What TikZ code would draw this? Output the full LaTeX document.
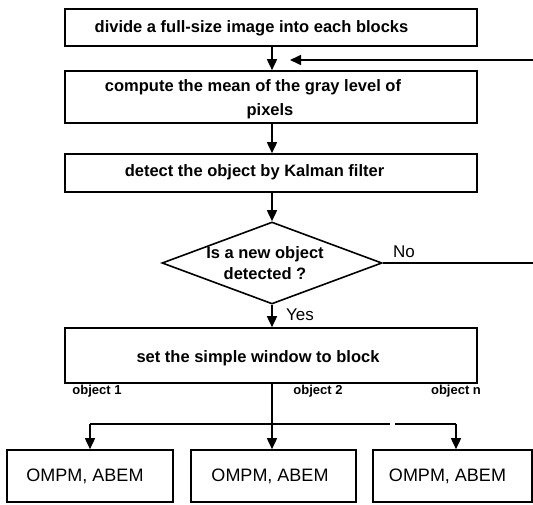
\documentclass[tikz,border=0pt]{standalone}
\usepackage{fontspec}
\setmainfont{Liberation Sans}
\usetikzlibrary{arrows.meta,shapes.geometric}
\begin{document}
\begin{tikzpicture}[x=1pt,y=-1pt,
  line width=1.6pt,
  box/.style={draw,line width=1.6pt,inner sep=0pt,minimum width=412pt},
  smallbox/.style={draw,line width=1.6pt,inner sep=0pt,minimum height=52pt},
  dia/.style={draw,line width=1.6pt,diamond,inner sep=0pt,minimum width=220pt,minimum height=82pt},
  btxt/.style={inner sep=0pt,font=\fontsize{16.5}{19}\selectfont\bfseries},
  rtxt/.style={inner sep=0pt,font=\fontsize{17}{20}\selectfont},
  otxt/.style={inner sep=0pt,font=\fontsize{18}{21}\selectfont},
  ltxt/.style={inner sep=0pt,font=\fontsize{13}{15}\selectfont\bfseries},
  arr/.style={-{Triangle[length=11pt,width=10pt]}}]
\fill[white] (0,0) rectangle (533,505);
\useasboundingbox (0,0) rectangle (533,505);
% boxes
\node[box,minimum height=37pt] (b1) at (271,27.5) {};
\node[box,minimum height=52pt] (b2) at (271,97) {};
\node[box,minimum height=38pt] (b3) at (271,173) {};
\node[dia] (d) at (272,263) {};
\node[box,minimum height=55pt] (b4) at (271,355.5) {};
\node[smallbox,minimum width=166pt] (o1) at (90,476) {};
\node[smallbox,minimum width=165pt] (o2) at (273.5,476) {};
\node[smallbox,minimum width=159pt] (o3) at (452.5,476) {};
% texts
\node[btxt] (t1) at (251.5,28) {divide a full-size image into each blocks};
\node[btxt] (t2a) at (253,87) {compute the mean of the gray level of};
\node[btxt] (t2b) at (270,111) {pixels};
\node[btxt] (t3) at (254.5,172) {detect the object by Kalman filter};
\node[btxt,align=center] (td) at (265,263) {Is a new object\\[2pt]detected ?};
\node[rtxt] (tno) at (404,252) {No};
\node[rtxt] (tyes) at (300,315) {Yes};
\node[btxt] (t4) at (258,358) {set the simple window to block};
\node[ltxt] (l1) at (97,391) {object 1};
\node[ltxt] (l2) at (318,391) {object 2};
\node[ltxt] (l3) at (456,391) {object n};
\node[otxt] (x1) at (85,476) {OMPM, ABEM};
\node[otxt] (x2) at (270,476) {OMPM, ABEM};
\node[otxt] (x3) at (447.5,476) {OMPM, ABEM};
% connectors
\draw[arr] (b1.south -| 272,0) -- (b2.north -| 272,0);
\coordinate (fbR) at (533,60);
\coordinate (fbT) at (290,60);
\draw[arr] (fbR) -- (fbT);
\draw[arr] (b2.south -| 272,0) -- (b3.north -| 272,0);
\draw[arr] (b3.south -| 272,0) -- (d.north);
\coordinate (noR) at (533,263);
\draw (d.east) -- (noR);
\draw[arr] (d.south) -- (b4.north -| d.south);
\coordinate (h1) at (90,424);
\coordinate (g1) at (390,424);
\coordinate (g2) at (395,424);
\coordinate (h3) at (456,424);
\draw[arr] (b4.south -| 272,0) -- (o2.north -| 272,0);
\draw (h1) -- (g1);
\draw (g2) -- (h3);
\draw[arr] (h1) -- (o1.north);
\draw[arr] (h3) -- (h3 |- o3.north);
\end{tikzpicture}
\end{document}
